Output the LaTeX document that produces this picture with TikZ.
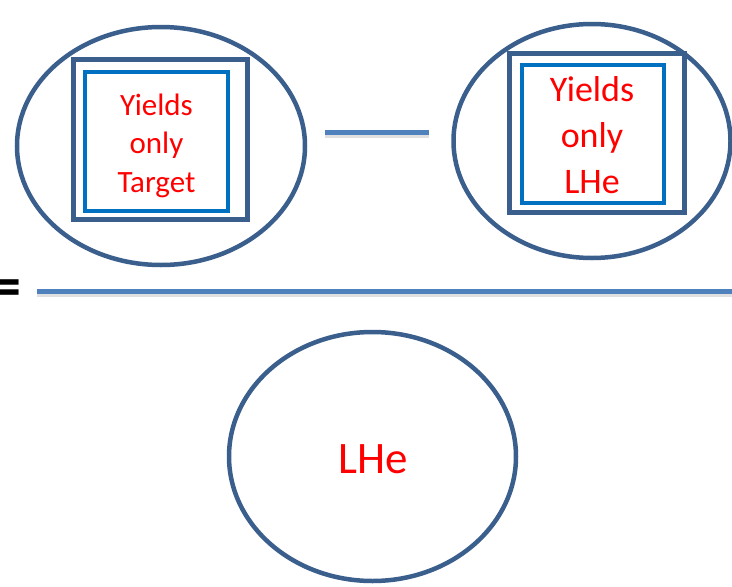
\documentclass[tikz,border=0pt]{standalone}
\usepackage{fontspec}
\setmainfont{Carlito}
\usetikzlibrary{shapes.geometric}
\definecolor{ellblue}{HTML}{3A5F8C}
\definecolor{innerblue}{HTML}{0070C0}
\definecolor{lineblue}{HTML}{4F81BD}
\tikzset{
  oval/.style={ellipse, draw=ellblue, line width=4.5pt, inner sep=0pt},
  outerbox/.style={rectangle, draw=ellblue, line width=5pt, inner sep=0pt},
  innerbox/.style={rectangle, draw=innerblue, line width=4pt, inner sep=0pt},
  redtext/.style={text=red, align=center, inner sep=0pt},
  opline/.style={draw=lineblue, line width=5pt},
  shadowline/.style={draw=black!12, line width=4pt},
}
\begin{document}
\begin{tikzpicture}[x=1pt,y=-1pt]
\path[use as bounding box, fill=white] (0,0) rectangle (732,587);
\begin{scope}
\clip (0,0) rectangle (732,587);
% left group
\node[oval, minimum width=288pt, minimum height=238pt] (e1) at (161,146) {};
\node[outerbox, minimum width=174pt, minimum height=160pt] (o1) at (160.5,139.5) {};
\node[innerbox, minimum width=143pt, minimum height=139pt] (i1) at (156.5,141.5) {};
\node[redtext, font=\fontsize{31}{38.5}\selectfont] (t1) at (156.5,145.5) {Yields\\only\\Target};
% right group
\node[oval, minimum width=277pt, minimum height=234pt] (e2) at (592,141) {};
\node[outerbox, minimum width=175pt, minimum height=159pt] (o2) at (597,133) {};
\node[innerbox, minimum width=142pt, minimum height=138pt] (i2) at (593,134) {};
\node[redtext, font=\fontsize{36}{46}\selectfont] (t2) at (592,135) {Yields\\only\\LHe};
% minus sign
\coordinate (m1) at (325,132);
\coordinate (m2) at (429,132);
\draw[shadowline] ([yshift=-4pt]m1) -- ([yshift=-4pt]m2);
\draw[opline] (m1) -- (m2);
% fraction bar
\coordinate (f1) at (37,291);
\coordinate (f2) at (740,291);
\draw[shadowline] ([yshift=-4pt]f1) -- ([yshift=-4pt]f2);
\draw[opline] (f1) -- (f2);
% equals sign
\node[inner sep=0pt, anchor=east, font=\fontsize{60}{72}\selectfont\bfseries] (eq) at (22,293) {=};
% bottom
\node[oval, minimum width=287pt, minimum height=249pt] (e3) at (372.5,456.5) {};
\node[text=red, inner sep=0pt, anchor=base, font=\fontsize{45}{54}\selectfont] (t3) at (373,473) {LHe};
\end{scope}
\end{tikzpicture}
\end{document}
